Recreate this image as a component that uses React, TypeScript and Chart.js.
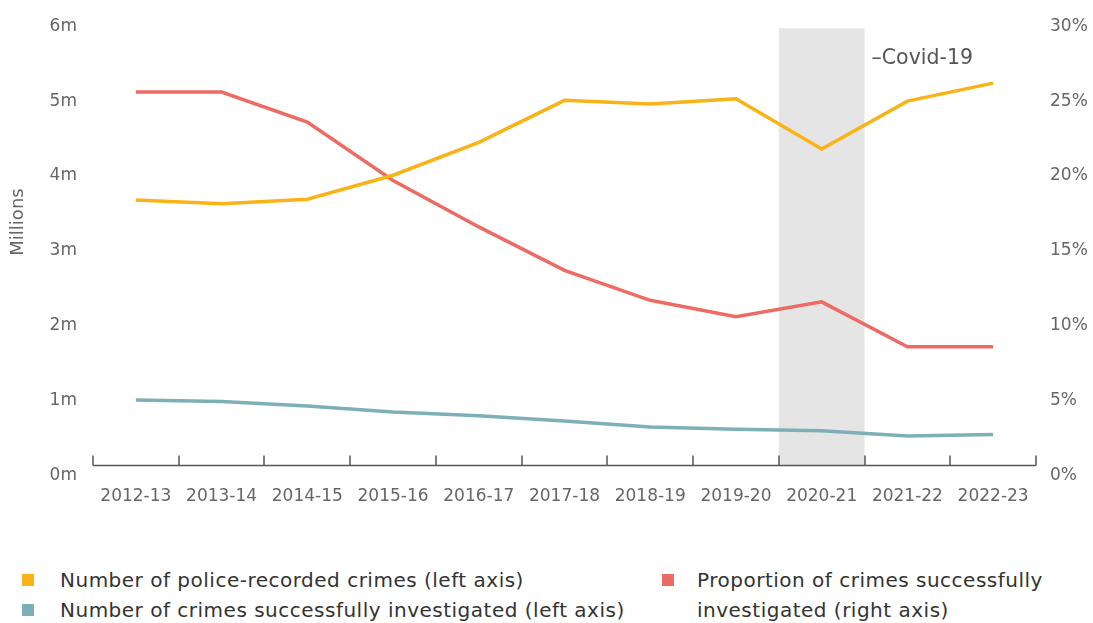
import React, { useEffect, useRef } from "react";
import { Chart, registerables } from "chart.js";

Chart.register(...registerables);

const categories = [
  "2012-13", "2013-14", "2014-15", "2015-16", "2016-17", "2017-18",
  "2018-19", "2019-20", "2020-21", "2021-22", "2022-23",
];
const recordedCrimes = [3.68, 3.63, 3.69, 4.01, 4.45, 5.01, 4.96, 5.03, 4.36, 5.0, 5.24];
const investigatedCrimes = [1.01, 0.99, 0.93, 0.85, 0.8, 0.73, 0.65, 0.62, 0.6, 0.53, 0.55];
const proportionInvestigated = [25.6, 25.6, 23.6, 19.7, 16.6, 13.7, 11.7, 10.6, 11.6, 8.6, 8.6];
const leftTicks = [0, 1, 2, 3, 4, 5, 6];
const rightTicks = [0, 5, 10, 15, 20, 25, 30];
const covidCategory = "2020-21";
const covidLabel = "–Covid-19";
const yTitle = "Millions";

const YELLOW = "#F9B316";
const TEAL = "#7DAFB7";
const RED = "#EC6B63";
const FONT = "'DejaVu Sans', sans-serif";

const overlayPlugin = {
  id: "overlay",
  beforeDatasetsDraw(chart: any) {
    const { ctx, chartArea, scales } = chart;
    const x = scales.x;
    const y = scales.y;
    const idx = categories.indexOf(covidCategory);
    const step = x.getPixelForValue(1) - x.getPixelForValue(0);
    const cx = x.getPixelForValue(idx);
    const axisY = y.getPixelForValue(0) - 10;
    ctx.save();
    ctx.fillStyle = "#E5E5E5";
    ctx.fillRect(cx - step / 2, chartArea.top + 2, step, axisY - chartArea.top - 2);
    ctx.fillStyle = "#555555";
    ctx.font = "20.5px " + FONT;
    ctx.textAlign = "left";
    ctx.textBaseline = "middle";
    ctx.fillText(covidLabel, cx + step / 2 + 7, chartArea.top + 32);
    ctx.restore();
  },
  afterDatasetsDraw(chart: any) {
    const { ctx, chartArea, scales } = chart;
    const x = scales.x;
    const y = scales.y;
    const step = x.getPixelForValue(1) - x.getPixelForValue(0);
    const axisY = y.getPixelForValue(0) - 10;
    ctx.save();
    ctx.strokeStyle = "#555555";
    ctx.lineWidth = 1.5;
    ctx.beginPath();
    ctx.moveTo(chartArea.left, axisY);
    ctx.lineTo(chartArea.right, axisY);
    for (let i = 0; i <= categories.length; i++) {
      const px = Math.round(x.getPixelForValue(0) - step / 2 + i * step);
      ctx.moveTo(px, axisY);
      ctx.lineTo(px, axisY - 10);
    }
    ctx.stroke();
    ctx.fillStyle = "#666666";
    ctx.font = "18px " + FONT;
    ctx.translate(18, 222);
    ctx.rotate(-Math.PI / 2);
    ctx.textAlign = "center";
    ctx.textBaseline = "middle";
    ctx.fillText(yTitle, 0, 0);
    ctx.restore();
  },
};

export default function App() {
  const canvasRef = useRef<HTMLCanvasElement | null>(null);

  useEffect(() => {
    document.body.style.margin = "0";
    if (!canvasRef.current) return;
    const chart = new Chart(canvasRef.current, {
      type: "line",
      data: {
        labels: categories,
        datasets: [
          {
            label: "Number of police-recorded crimes (left axis)",
            data: recordedCrimes,
            borderColor: YELLOW,
            backgroundColor: YELLOW,
            borderWidth: 3.5,
            pointRadius: 0,
            yAxisID: "y",
          },
          {
            label: "Number of crimes successfully investigated (left axis)",
            data: investigatedCrimes,
            borderColor: TEAL,
            backgroundColor: TEAL,
            borderWidth: 3.5,
            pointRadius: 0,
            yAxisID: "y",
          },
          {
            label: "Proportion of crimes successfully investigated (right axis)",
            data: proportionInvestigated,
            borderColor: RED,
            backgroundColor: RED,
            borderWidth: 3.5,
            pointRadius: 0,
            yAxisID: "y1",
          },
        ],
      },
      options: {
        animation: false,
        responsive: true,
        maintainAspectRatio: false,
        layout: { padding: { top: 21, left: 0, right: 0, bottom: 0 } },
        plugins: { legend: { display: false }, tooltip: { enabled: false } },
        scales: {
          x: {
            type: "category",
            offset: true,
            grid: { display: false, drawTicks: false },
            border: { display: false },
            ticks: {
              color: "#666666",
              font: { family: FONT, size: 17 },
              padding: 11,
              maxRotation: 0,
              autoSkip: false,
            },
          },
          y: {
            position: "left",
            min: 0,
            max: 6,
            afterBuildTicks: (s: any) => {
              s.ticks = leftTicks.map((v) => ({ value: v }));
            },
            afterFit: (s: any) => {
              s.width = 93;
            },
            grid: { display: false, drawTicks: false },
            border: { display: false },
            ticks: {
              color: "#666666",
              font: { family: FONT, size: 17 },
              padding: 16,
              callback: (v: any) => v + "m",
            },
          },
          y1: {
            position: "right",
            min: 0,
            max: 30,
            afterBuildTicks: (s: any) => {
              s.ticks = rightTicks.map((v) => ({ value: v }));
            },
            afterFit: (s: any) => {
              s.width = 57;
            },
            grid: { display: false, drawTicks: false },
            border: { display: false },
            ticks: {
              color: "#666666",
              font: { family: FONT, size: 17 },
              padding: 14,
              callback: (v: any) => v + "%",
            },
          },
        },
      },
      plugins: [overlayPlugin],
    } as any);
    return () => chart.destroy();
  }, []);

  const legendText: React.CSSProperties = {
    position: "absolute",
    fontFamily: FONT,
    fontSize: 20,
    letterSpacing: "0.5px",
    color: "#333333",
    lineHeight: "30px",
    whiteSpace: "nowrap",
  };
  const square = (color: string, left: number, top: number): React.CSSProperties => ({
    position: "absolute",
    left,
    top,
    width: 12,
    height: 12,
    background: color,
  });

  return (
    <div style={{ position: "relative", width: 1093, height: 623, overflow: "hidden" }}>
      <div style={{ position: "absolute", left: 0, top: 0, width: 1093, height: 518 }}>
        <canvas ref={canvasRef} />
      </div>
      <div style={square(YELLOW, 22, 574)} />
      <div style={{ ...legendText, left: 60, top: 565 }}>Number of police-recorded crimes (left axis)</div>
      <div style={square(TEAL, 22, 604)} />
      <div style={{ ...legendText, left: 60, top: 595 }}>Number of crimes successfully investigated (left axis)</div>
      <div style={square(RED, 662, 574)} />
      <div style={{ ...legendText, left: 697, top: 565 }}>
        Proportion of crimes successfully
        <br />
        investigated (right axis)
      </div>
    </div>
  );
}
